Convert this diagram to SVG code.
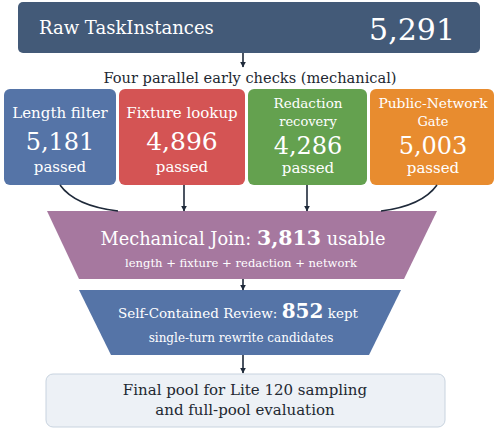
<svg xmlns="http://www.w3.org/2000/svg" width="499" height="431" viewBox="0 0 499 431">
<defs>
<marker id="ah" viewBox="0 0 10 10" refX="9" refY="5" markerWidth="6" markerHeight="6" orient="auto" markerUnits="userSpaceOnUse">
<path d="M0,0 L10,5 L0,10 z" fill="#1f2a3a"/>
</marker>
<style>
text{font-family:"DejaVu Serif","Liberation Serif",serif;fill:#ffffff;text-anchor:middle}
.dark{fill:#222831}
.edge{fill:none;stroke:#1f2a3a;stroke-width:1.6}
.b{font-weight:bold}
</style>
</defs>
<rect width="499" height="431" fill="#ffffff"/>
<g id="raw">
<rect x="18" y="2" width="462" height="51" rx="5" fill="#435a78"/>
<text x="39" y="34" font-size="18" style="text-anchor:start">Raw TaskInstances</text>
<text x="455" y="40" font-size="30" style="text-anchor:end">5,291</text>
</g>
<text class="dark" x="250" y="83" font-size="14.6">Four parallel early checks (mechanical)</text>
<g id="length">
<rect x="4" y="89" width="112" height="96" rx="6" fill="#5574a7"/>
<text x="60" y="118" font-size="15">Length filter</text>
<text x="60" y="150" font-size="24">5,181</text>
<text x="60" y="172" font-size="15">passed</text>
</g>
<g id="fixture">
<rect x="119" y="89" width="126" height="96" rx="6" fill="#d45454"/>
<text x="182" y="118" font-size="15">Fixture lookup</text>
<text x="182" y="150" font-size="25">4,896</text>
<text x="182" y="172" font-size="15">passed</text>
</g>
<g id="redaction">
<rect x="248" y="89" width="119" height="96" rx="6" fill="#64a14f"/>
<text x="308" y="108" font-size="13.5">Redaction</text>
<text x="308" y="126" font-size="13">recovery</text>
<text x="308" y="154" font-size="24">4,286</text>
<text x="308" y="173" font-size="15">passed</text>
</g>
<g id="network">
<rect x="370" y="89" width="124" height="96" rx="6" fill="#e88c2f"/>
<text x="433" y="108" font-size="13.8">Public-Network</text>
<text x="433" y="126" font-size="13">Gate</text>
<text x="433" y="154" font-size="24">5,003</text>
<text x="433" y="173" font-size="15">passed</text>
</g>
<g id="join">
<path d="M47,211 L437,211 L404,279 L79,279 Z" fill="#a6789f"/>
<text x="243" y="245" font-size="17.8">Mechanical Join: <tspan class="b" font-size="20.5">3,813</tspan> usable</text>
<text x="241" y="267" font-size="11.6">length + fixture + redaction + network</text>
</g>
<g id="review">
<path d="M79,290 L401,290 L369,355 L111,355 Z" fill="#5574a7"/>
<text x="238" y="318" font-size="13.5">Self-Contained Review: <tspan class="b" font-size="20">852</tspan> kept</text>
<text x="241" y="342" font-size="12">single-turn rewrite candidates</text>
</g>
<g id="final">
<rect x="46" y="374" width="399" height="53" rx="7" fill="#edf1f6" stroke="#c8d3df" stroke-width="1"/>
<text class="dark" x="245" y="395" font-size="15">Final pool for Lite 120 sampling</text>
<text class="dark" x="245" y="415" font-size="15">and full-pool evaluation</text>
</g>
<g id="connectors">
<path class="edge" d="M243,53 L243,67" marker-end="url(#ah)"/>
<path class="edge" d="M60,185 Q75,206 118,211"/>
<path class="edge" d="M184,185 L184,211" marker-end="url(#ah)"/>
<path class="edge" d="M307,185 L307,211" marker-end="url(#ah)"/>
<path class="edge" d="M437,185 Q422,206 381,211"/>
<path class="edge" d="M243,279 L243,290" marker-end="url(#ah)"/>
<path class="edge" d="M243,355 L243,373" marker-end="url(#ah)"/>
</g>
</svg>
